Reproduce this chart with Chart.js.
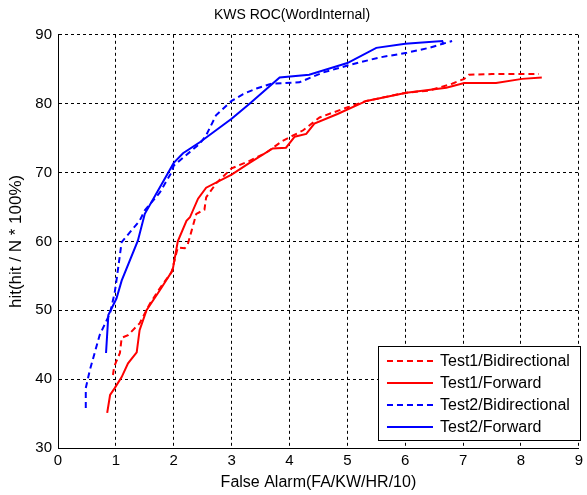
<!DOCTYPE html>
<html>
<head>
<meta charset="utf-8">
<script src="https://cdn.jsdelivr.net/npm/chart.js@4"></script>
<style>
  html, body { margin: 0; padding: 0; background: #fff; }
  #wrap { width: 587px; height: 495px; }
</style>
</head>
<body>
<div id="wrap"><canvas id="roc"></canvas></div>
<script>
// values
const seriesNames = ['Test1/Bidirectional', 'Test1/Forward', 'Test2/Bidirectional', 'Test2/Forward'];

const t1BidiX = [0.95, 0.97, 1.07, 1.10, 1.21, 1.41, 1.59, 1.76, 1.96, 2.07, 2.19, 2.24, 2.31, 2.39, 2.53, 2.56, 2.74, 3.0, 3.31, 3.6, 3.88, 4.23, 4.52, 4.98, 5.33, 6.02, 6.41, 6.81, 7.02, 7.1, 7.5, 8.31];
const t1BidiY = [40.6, 41.8, 43.8, 46.0, 46.4, 48.1, 51.0, 53.2, 55.5, 59.1, 59.0, 59.5, 61.6, 64.0, 64.6, 66.4, 68.5, 70.6, 71.7, 72.9, 74.6, 76.1, 78.0, 79.4, 80.4, 81.6, 81.9, 82.9, 83.6, 84.2, 84.3, 84.3];

const t1FwdX = [0.85, 0.9, 0.98, 1.1, 1.21, 1.36, 1.41, 1.53, 1.76, 1.98, 2.07, 2.22, 2.28, 2.42, 2.56, 3.0, 3.31, 3.71, 3.94, 4.09, 4.29, 4.43, 4.83, 5.33, 6.02, 6.71, 7.02, 7.57, 8.02, 8.36];
const t1FwdY = [35.1, 37.7, 38.7, 40.3, 42.3, 43.9, 47.1, 50.0, 52.9, 55.8, 60.0, 63.0, 63.5, 66.2, 67.8, 69.7, 71.4, 73.5, 73.6, 75.2, 75.6, 77.1, 78.5, 80.4, 81.6, 82.3, 83.0, 83.0, 83.6, 83.8];

const t2BidiX = [0.48, 0.48, 0.55, 0.72, 0.9, 0.98, 1.01, 1.10, 1.41, 1.5, 1.76, 1.96, 2.0, 2.45, 2.56, 2.73, 3.0, 3.2, 3.43, 3.69, 4.17, 4.57, 5.03, 5.55, 6.03, 6.41, 6.81];
const t2BidiY = [35.8, 38.7, 41.3, 46.4, 49.6, 52.6, 54.3, 59.9, 63.0, 64.5, 67.1, 70.0, 71.0, 74.2, 75.4, 78.3, 80.4, 81.4, 82.2, 82.9, 83.1, 84.5, 85.6, 86.7, 87.4, 88.1, 89.1];

const t2FwdX = [0.83, 0.87, 1.01, 1.10, 1.38, 1.5, 2.0, 2.16, 2.45, 3.0, 3.31, 3.83, 4.34, 5.0, 5.5, 6.0, 6.64, 6.66];
const t2FwdY = [43.8, 49.3, 51.7, 54.3, 60.1, 64.0, 71.4, 72.8, 74.4, 77.8, 80.0, 83.8, 84.2, 85.9, 88.1, 88.7, 89.1, 88.6];

const xTicks = [0, 1, 2, 3, 4, 5, 6, 7, 8, 9];
const yTicks = [30, 40, 50, 60, 70, 80, 90];

const FONT = 'Liberation Sans, Arial, sans-serif';

const pts = (xs, ys) => xs.map((x, i) => ({ x: x, y: ys[i] }));

const mkSet = (label, xs, ys, color, dashed) => ({
  label: label,
  data: pts(xs, ys),
  showLine: true,
  borderColor: color,
  backgroundColor: color,
  borderWidth: 2,
  borderDash: dashed ? [6, 4] : [],
  pointRadius: 0,
  tension: 0,
});

// matlab style box legend inside the plot, bottom right
const boxLegend = {
  id: 'boxLegend',
  afterDatasetsDraw(chart) {
    const { ctx, chartArea } = chart;
    const sets = chart.data.datasets;
    ctx.save();
    ctx.font = '16px ' + FONT;
    let tw = 0;
    sets.forEach(d => { tw = Math.max(tw, ctx.measureText(d.label).width); });
    const w = 9 + 46 + 7 + tw + 10;
    const h = 94;
    const right = chartArea.right + 1;
    const bottom = chartArea.bottom - 8;
    const left = right - w;
    const top = bottom - h;
    ctx.fillStyle = '#fff';
    ctx.fillRect(left, top, w, h);
    ctx.strokeStyle = '#000';
    ctx.lineWidth = 1;
    ctx.setLineDash([]);
    ctx.strokeRect(Math.round(left) + 0.5, Math.round(top) + 0.5, Math.round(w), Math.round(h));
    sets.forEach((d, i) => {
      const y = top + 15 + i * 22;
      ctx.strokeStyle = d.borderColor;
      ctx.lineWidth = 2;
      ctx.setLineDash(d.borderDash.length ? [6, 4] : []);
      ctx.beginPath();
      ctx.moveTo(left + 9, y);
      ctx.lineTo(left + 55, y);
      ctx.stroke();
      ctx.setLineDash([]);
      ctx.fillStyle = '#000';
      ctx.textBaseline = 'middle';
      ctx.fillText(d.label, left + 62, y + 1);
    });
    ctx.restore();
  }
};

new Chart(document.getElementById('roc').getContext('2d'), {
  type: 'scatter',
  data: {
    datasets: [
      mkSet(seriesNames[0], t1BidiX, t1BidiY, '#ff0000', true),
      mkSet(seriesNames[1], t1FwdX, t1FwdY, '#ff0000', false),
      mkSet(seriesNames[2], t2BidiX, t2BidiY, '#0000ff', true),
      mkSet(seriesNames[3], t2FwdX, t2FwdY, '#0000ff', false),
    ],
  },
  options: {
    responsive: true,
    maintainAspectRatio: false,
    animation: false,
    layout: { padding: { left: 0, right: 3, top: 0, bottom: 0 } },
    plugins: {
      legend: { display: false },
      tooltip: { enabled: false },
      title: {
        display: true,
        text: 'KWS ROC(WordInternal)',
        color: '#000',
        font: { family: FONT, size: 14, weight: 'normal' },
        padding: { top: 7, bottom: 11 },
      },
    },
    scales: {
      x: {
        type: 'linear',
        min: 0,
        max: 9,
        afterBuildTicks: s => { s.ticks = xTicks.map(v => ({ value: v })); },
        afterFit: s => { s.height = 47; },
        ticks: { color: '#000', font: { family: FONT, size: 15 }, padding: 4 },
        grid: { color: '#000', lineWidth: 1, drawTicks: false },
        border: { display: true, color: '#000', dash: [3, 3], width: 1 },
        title: {
          display: true,
          text: 'False Alarm(FA/KW/HR/10)',
          color: '#000',
          font: { family: FONT, size: 16 },
          padding: { top: 0, bottom: 3 },
        },
      },
      y: {
        type: 'linear',
        min: 30,
        max: 90,
        afterBuildTicks: s => { s.ticks = yTicks.map(v => ({ value: v })); },
        afterFit: s => { s.width = 58; },
        ticks: { color: '#000', font: { family: FONT, size: 15 }, padding: 6 },
        grid: { color: '#000', lineWidth: 1, drawTicks: false },
        border: { display: true, color: '#000', dash: [3, 3], width: 1 },
        title: {
          display: true,
          text: 'hit(hit / N * 100%)',
          color: '#000',
          font: { family: FONT, size: 17 },
          padding: { top: 6, bottom: 0 },
        },
      },
    },
  },
  plugins: [boxLegend],
});
</script>
</body>
</html>
